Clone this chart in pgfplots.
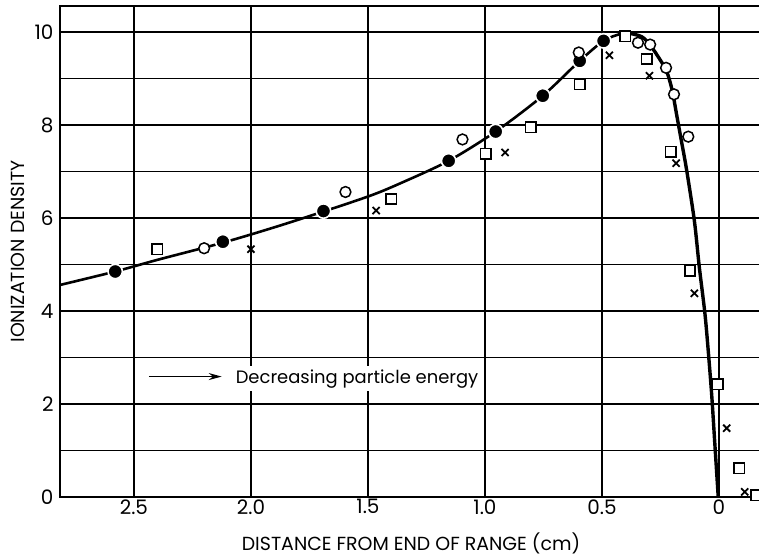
\documentclass[border=0pt]{standalone}
\usepackage{fontspec}
\setmainfont{Poppins}
\usepackage{pgfplots}
\pgfplotsset{compat=1.18}
\usetikzlibrary{arrows.meta}

\begin{document}
\begin{tikzpicture}
\begin{axis}[
    at={(0,0)}, anchor=south west,
    scale only axis,
    width=702bp, height=491bp,
    x dir=reverse,
    xmin=-0.184, xmax=2.816,
    ymin=0, ymax=10.56,
    xtick={0,0.5,1,1.5,2,2.5},
    xticklabels={0,0.5,1.0,1.5,2.0,2.5},
    ytick={0,1,...,10},
    yticklabels={0,,2,,4,,6,,8,,10},
    major tick length=0pt,
    grid=major,
    grid style={black, line width=1.3bp},
    axis line style={line width=2bp},
    tick label style={font=\fontsize{20}{22}\selectfont},
    yticklabel style={xshift=-3bp},
    xticklabel style={yshift=1bp},
    label style={font=\fontsize{19}{22}\selectfont},
    xlabel={DISTANCE FROM END OF RANGE (cm)},
    ylabel={IONIZATION DENSITY},
    xlabel style={at={(axis description cs:0.5,0)}, anchor=center, yshift=-46bp},
    ylabel style={at={(axis description cs:0,0.5)}, anchor=center, yshift=42bp},
]
% curve, rising part
\addplot[black, line width=2.6bp, smooth] coordinates {
 (2.816,4.56) (2.58,4.85) (2.40,5.10) (2.12,5.47) (1.90,5.80) (1.69,6.14)
 (1.49,6.48) (1.36,6.75) (1.155,7.23) (0.954,7.86) (0.753,8.63) (0.595,9.38)
 (0.493,9.81) (0.42,9.96) (0.38,9.97)};
% curve, falling part
\addplot[black, line width=3.4bp, smooth] coordinates {
 (0.38,9.97) (0.33,9.90) (0.294,9.72) (0.251,9.40) (0.223,9.15) (0.20,8.75)
 (0.18,8.20) (0.159,7.62) (0.138,7.03) (0.105,5.94) (0.084,4.95) (0.06,3.95)
 (0.046,3.16) (0.031,2.20) (0.017,1.10) (0.003,0)};
% filled circles
\addplot[only marks, mark=*, mark size=7.2bp,
  mark options={fill=black, draw=white, line width=1.6bp}] coordinates {
 (2.58,4.85) (2.12,5.49) (1.69,6.15) (1.155,7.23) (0.954,7.86)
 (0.753,8.63) (0.595,9.38) (0.493,9.81)};
% open circles
\addplot[only marks, mark=*, mark size=5.4bp,
  mark options={fill=white, draw=black, line width=1.5bp}] coordinates {
 (2.20,5.35) (1.596,6.56) (1.096,7.69) (0.599,9.56) (0.346,9.77)
 (0.294,9.73) (0.226,9.23) (0.192,8.66) (0.131,7.75)};
% squares
\addplot[only marks, mark=square*, mark size=5.2bp,
  mark options={fill=white, draw=black, line width=1.6bp}] coordinates {
 (2.40,5.33) (1.40,6.41) (0.997,7.38) (0.805,7.95) (0.595,8.88)
 (0.40,9.91) (0.308,9.42) (0.206,7.43) (0.124,4.87) (0.005,2.42)
 (-0.087,0.62) (-0.16,0.04)};
% crosses
\addplot[only marks, mark=x, mark size=5bp,
  mark options={draw=black, line width=1.8bp}] coordinates {
 (2.00,5.33) (1.465,6.16) (0.914,7.41) (0.468,9.50) (0.297,9.06)
 (0.183,7.18) (0.105,4.38) (-0.033,1.48) (-0.11,0.11)};
\draw[line width=1.5bp, -{Stealth[length=13bp, width=7bp]}]
  (axis cs:2.436,2.59) -- (axis cs:2.125,2.59);
\node[anchor=base west, fill=white, inner xsep=2bp, inner ysep=3bp,
  font=\fontsize{18}{20}\selectfont] at (axis cs:2.074,2.45) {Decreasing particle energy};
\end{axis}
\pgfresetboundingbox
\path[use as bounding box] (-60bp,-59bp) rectangle (699bp,497bp);
\end{tikzpicture}
\end{document}
